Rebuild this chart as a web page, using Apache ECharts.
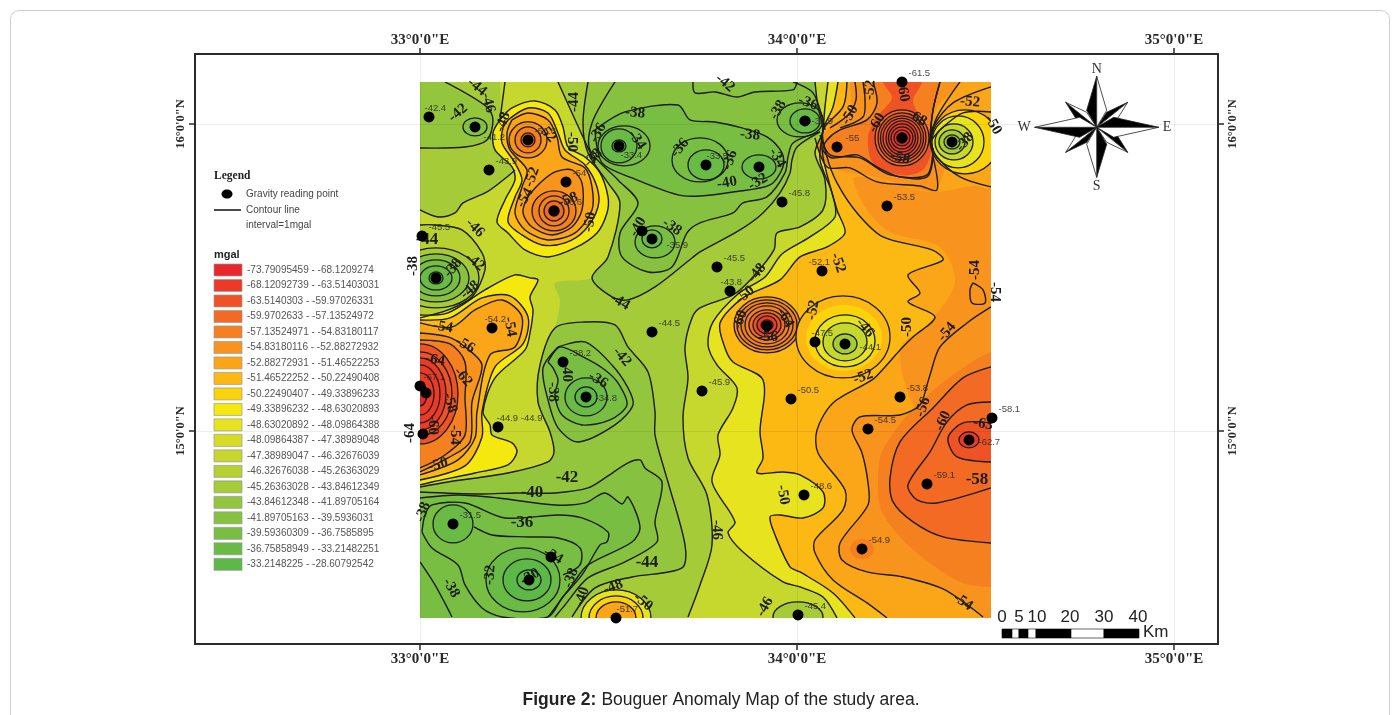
<!DOCTYPE html>
<html><head><meta charset="utf-8">
<style>
html,body{margin:0;padding:0;background:#fff;overflow:hidden}
#card{position:absolute;left:10px;top:10px;width:1380px;height:760px;border:1px solid #cfcfcf;border-radius:9px;box-sizing:border-box}
#c{position:absolute;left:0;top:0;width:1398px;height:715px}
</style>
<script src="https://cdn.jsdelivr.net/npm/echarts@6/dist/echarts.min.js"></script>
</head><body><div id="card"></div><div id="c"></div>
<script>
// ---- legend classes ----
const classLabels=["-73.79095459 - -68.1209274","-68.12092739 - -63.51403031","-63.5140303 - -59.97026331","-59.9702633 - -57.13524972","-57.13524971 - -54.83180117","-54.83180116 - -52.88272932","-52.88272931 - -51.46522253","-51.46522252 - -50.22490408","-50.22490407 - -49.33896233","-49.33896232 - -48.63020893","-48.63020892 - -48.09864388","-48.09864387 - -47.38989048","-47.38989047 - -46.32676039","-46.32676038 - -45.26363029","-45.26363028 - -43.84612349","-43.84612348 - -41.89705164","-41.89705163 - -39.5936031","-39.59360309 - -36.7585895","-36.75858949 - -33.21482251","-33.2148225 - -28.60792542"];
const classUpper=[-68.12,-63.51,-59.97,-57.14,-54.83,-52.88,-51.47,-50.22,-49.34,-48.63,-48.10,-47.39,-46.33,-45.26,-43.85,-41.90,-39.59,-36.76,-33.21,-28.6];
const classColors=["#e8262b","#ec3a27","#ef5225","#f26a23","#f58020","#f8941d","#fba519","#fcb913","#fad30a","#f5e80f","#e8e31f","#d6dc26","#c6d72d","#b7d133","#a5cb39","#94c63d","#86c240","#78be43","#6abb45","#5cb947"];
function colorFor(level){for(let i=0;i<classUpper.length;i++){if(level<=classUpper[i])return classColors[i];}return classColors[19];}

// ---- graticule ----
const lonTicks=[33,34,35], latTicks=[15,16];
const lonText={33:'33°0\'0"E',34:'34°0\'0"E',35:'35°0\'0"E'};
const latText={15:'15°0\'0"N',16:'16°0\'0"N'};
// digitising sheet units: east and south of the NW corner of the study area
const ORIGIN_LON=33, ORIGIN_LAT=16.137, LON_PER_UNIT=1/377, LAT_PER_UNIT=1/307;
const geo=p=>[ORIGIN_LON+p[0]*LON_PER_UNIT, ORIGIN_LAT-p[1]*LAT_PER_UNIT];
const AREA_E=571, AREA_S=536;

// ---- gravity reading points: east, south, reading ----
const gravityPoints=[[9,35,"-42.4"],[55,45,"-41.2"],[69,88,"-43.9"],[108,58,"-56.6"],[146,100,"-54"],[134,129,"-56.6"],[2,154,"-45.5"],[16,196,""],[72,246,"-54.2"],[199,64,"-33.4"],[286,83,"-33.5"],[339,85,""],[222,149,""],[232,157,"-35.9"],[232,250,"-44.5"],[385,39,"-32.9"],[417,65,"-55"],[482,0,"-61.5"],[482,56,""],[532,60,""],[362,120,"-45.8"],[467,124,"-53.5"],[297,185,"-45.5"],[310,209,"-43.8"],[402,189,"-52.1"],[347,244,""],[395,260,"-47.5"],[425,262,"-44.1"],[143,280,"-38.2"],[166,315,"-34.8"],[282,309,"-45.9"],[0,304,"-67.1"],[6,311,""],[3,352,""],[78,345,"-44.9 -44.9"],[33,442,"-31.5"],[131,475,""],[109,498,""],[196,536,"-51.7"],[371,317,"-50.5"],[480,315,"-53.8"],[448,347,"-54.5"],[572,336,"-58.1"],[549,358,"-62.7"],[507,402,"-59.1"],[384,413,"-48.6"],[442,467,"-54.9"],[378,533,"-45.4"]];
const labelNudge={"-42.4":[-11,-9],"-43.8":[-16,-9],"-54.2":[-14,-9],"-47.5":[-10,-9],"-52.1":[-20,-9],"-51.7":[-6,-9],"-32.9":[0,0],"-44.1":[8,3],"-62.7":[3,2],"-34.8":[3,1],"-33.4":[-5,9],"-41.2":[2,10],"-35.9":[8,6],"-67.1":[-3,-9],"-44.9 -44.9":[-8,-9],"-33.5":[-6,-9],"-55":[2,-9]};

// ---- traced contours (flat east,south pairs) ----
const nw44=[25,0,67,25,73,38,67,58,45,65,0,66];
const westMid=[0,128,18,135,35,131,43,121,67,110,87,95,95,88];
const north46a=[85,0,80,38];
const north46b=[138,0,152,31,163,55,175,81];
const pea48=[80,38,92,26,115,19,135,28,143,45,148,65,165,75,180,91,188,115,187,131,177,151,155,166,128,175,105,168,88,151,77,140,85,118,95,98,92,85,75,68,73,51];
const pea50=[88,38,108,26,128,31,138,51,145,68,165,83,177,105,178,125,165,148,145,161,122,163,102,153,88,140,95,115,102,98,95,81,82,61,83,46];
const pea52=[92,38,108,31,128,38,137,55,142,75,165,86,172,105,172,128,155,151,128,158,105,148,95,131,102,105,107,88,90,68,87,51];
const low54=[120,101,135,90,152,88,162,101,162,128,152,145,132,153,112,145,103,131,108,115];
const wb46=[0,143,15,143,42,148,62,171,65,188,52,215,28,228,0,236];
const w48=[0,233,28,231,65,208,95,193,110,196,118,198,110,215,113,228,110,251,105,268,75,296,63,330,70,343,72,353,92,361,97,370,88,383,55,391,12,400,0,403];
const w50=[0,238,30,236,62,216,90,214,108,235,103,262,75,285,62,330,62,355,45,384,0,398];
const w52=[0,241,32,245,55,228,82,218,102,235,95,265,70,273,57,330,55,356,38,378,0,393];
const w54=[0,251,28,255,45,265,62,283,52,320,50,360,28,376,0,390];
const w56=[0,258,30,262,45,280,45,316,45,353,25,373,0,386];
const l42=[195,0,172,41,170,68,198,98,218,121,200,151,202,175,228,190,252,185,267,151,280,141,313,131,323,121,347,115,365,91,368,75,373,61,400,50];
const l44=[168,0,163,41,168,71,188,101,200,121,188,175,172,196,192,215,208,218,235,205,272,176,280,170,320,148,343,131,360,111,370,91,372,78,377,65,400,50];
const c38=[175,48,205,30,258,23,270,38,295,40,322,46,347,55,362,71,363,85,350,103,313,110,280,114,258,113,212,96,182,81];
const top42=[273,0,275,11,295,10,317,15,335,10,373,8,377,0];
const s44=[0,405,28,400,88,391,128,380,134,370,130,350,118,320,120,283,135,246,165,240,195,243,208,265,228,290,235,330,235,353,245,390,248,400,265,463,262,486,212,495,175,506,152,535];
const s42=[0,410,60,412,95,411,135,411,168,406,185,396,208,381,220,378,225,386,242,400,235,440,237,460,205,480,168,496,145,523,135,535];
const s40=[0,416,38,413,78,416,135,423,165,421,185,411,202,422,208,415,220,445,212,460,168,483,152,503,132,530,128,535];
const s38=[2,450,5,433,12,423,45,421,85,436,138,433,162,436,188,450,187,460,180,463,162,493,142,516,128,535,82,535,62,526,45,503,38,483,12,466];
const s36=[54,445,72,453,108,455,138,456,160,466,160,483,143,493];
const sw38=[0,480,15,503,32,535];
const b40=[138,265,165,260,192,283,208,306,213,323,195,343,158,360,138,346,128,318,123,286];
const b38=[128,280,140,265,165,276,185,288,198,301,207,323,190,338,162,343,142,333,135,313,138,298,133,286];
const e46=[395,0,398,25,403,48,395,71,405,98,403,128,380,145,357,151,354,168,333,195,313,213,280,226,272,236,265,265,268,296,263,335,268,376,287,413,292,463,280,503,268,535];
const e48=[408,0,405,25,403,48,400,78,412,111,415,135,390,155,362,172,345,195,318,212,293,240,288,263,297,283,317,306,313,326,298,353,300,373,292,400,315,440,308,451,323,470,363,500,380,505,403,515,417,536];
const e50=[418,0,413,25,403,48,403,75,417,128,425,151,407,165,380,175,360,198,323,216,300,241,305,266,313,280,343,298,340,350,343,376,337,391,363,390,380,393,403,410,403,426,383,436,360,433,350,435,355,453,370,485,380,490,413,511,435,536];
const e52=[427,0,423,25,403,48,407,75,417,101,437,131,463,155,512,168,523,178,488,193,500,211,488,220,515,235,493,255,480,268,465,285,452,298,413,321,397,348,398,371,425,408,423,428,395,458,395,471,413,498,447,521,467,536];
const e54=[571,225,547,241,520,265,510,293,507,303,500,323,480,333,440,335,432,348,442,371,448,401,448,423,420,461,422,478,447,490,483,495,523,507,563,535];
const e56=[571,285,543,296,513,326,480,360,470,396,473,420,493,440,523,455,571,461];
const e58=[571,320,547,323,527,340,510,370,488,403,497,418,517,421,571,406];
const e60=[571,341,543,341,528,356,537,375,571,380];
const islet=[553,201,563,208,565,221,552,221,550,208];
const n56=[453,0,457,21,447,38,420,48,407,58,403,68,412,76,437,73,457,85,480,95,507,95,513,75,510,60,513,28,520,0];
const n60=[463,0,472,16,457,35,448,55,453,81,480,93,503,88,512,65,507,45,493,20,502,0];
const fan=[[373,0,393,11,403,38,405,48],[443,0,445,18,443,35,420,46],[435,0,436,18,428,33,410,46],[520,0,513,28,510,60],[540,0,517,35,510,60],[571,5,533,21,513,45,510,60],[571,30,543,31,520,48,510,60],[571,105,540,95,517,75,510,60],[400,53,410,73,440,76,470,93,507,93,513,66],[395,56,407,85,430,86,457,100,500,104,517,108,513,75]];
// fill-only shading between contours
const f53=[435,95,445,125,470,150,520,165,535,200,510,240,480,268,497,326,520,265,547,241,571,225,571,108,510,110];
const f55=[571,270,530,295,490,330,462,370,458,400,462,430,490,465,540,500,571,505];
const n54=[430,0,430,30,405,50,397,65,410,85,455,95,510,110,517,108,525,80,515,30,540,0];
const ne50=[510,60,517,75,540,95,571,105,571,30,543,31,520,48];

// ---- bullseye rings: east, south, semi-axes, colour level, contour drawn ----
const rings=[
[108,58,19,18,-54,1],[108,58,13,13,-56,1],[108,58,7,7,-58,1],
[134,129,22,20,-55,1],[134,129,15,15,-56,1],[134,129,10,10,-58,1],[134,129,5,5,-59,1],
[55,45,12,9,-41,1],[204,64,26,20,-37,1],[199,64,18,17,-35,1],[199,64,7,6,-31,1],
[280,78,28,22,-37,1],[286,83,18,15,-35,1],[339,85,17,12,-35,1],
[380,38,23,17,-37,1],[385,39,15,12,-35,1],[385,39,5,4,-32,1],
[235,160,20,16,-37,1],[232,157,10,9,-35,1],
[16,196,43,30,-44.5,1],[16,196,33,24,-41,1],[16,196,24,18,-38,1],[16,196,16,12,-35,1],[16,196,7,6,-31,1],
[0,312,38,50,-60,1],[0,312,32,42,-62,1],[0,312,26,36,-64,1],[0,312,20,29,-65,1],[0,312,14,21,-67,1],[0,312,7,12,-71,1],
[166,315,21,19,-35,1],[166,315,11,10,-33,1],[166,315,4,4,-31,1],
[33,442,20,19,-34,1],[103,498,37,32,-35,1],[107,498,24,21,-33,1],[109,498,12,10,-31,1],
[482,56,27,28,-58,1],[482,56,24,25,-60,1],[482,56,21.5,22,-61,1],[482,56,19,19.5,-62,1],[482,56,16,17,-64,1],[482,56,13.5,14,-65,1],[482,56,11,11,-67,1],[482,56,8,8,-69,1],[482,56,5,5,-71,1],[482,56,2.5,2.5,-73,1],
[347,243,33,28,-54,1],[347,243,30,25,-55,1],[347,243,26,22,-56,1],[347,243,22,19,-57,1],[347,243,18,15,-59,1],[347,243,14,12,-61,1],[347,243,10,9,-64,1],[347,243,6,5,-66,1],[347,243,3,3,-70,1],
[423,255,47,41,-50.8,1],[424,256,38,33,-49.8,0],[425,259,30,26,-48.4,1],[425,260,22,19,-47,1],[425,262,12,10,-44.5,1],[425,262,5,4,-42,0],
[545,60,34,32,-49.8,1],[538,60,26,26,-48.3,1],[534,60,19,18,-46.5,1],[532,60,13,12,-45,1],[532,60,8,7,-42,1],[532,60,4,3,-38,0],
[549,358,10,8,-64,1],[549,358,4,3,-68,1],[442,467,12,10,-55,0],
[378,535,25,15,-45,1],[196,536,35,28,-48.3,1],[196,536,27,22,-50,1],[196,536,20,16,-52,1]
];

// ---- contour labels: east, south, text, clockwise degrees ----
const contourLabels=[
[57,5,"-44",40],[68,21,"-46",75],[38,31,"-42",-40],[83,40,"-48",-70],[127,51,"-52",50],[152,60,"-50",90],[154,20,"-44",-90],[215,31,"-38",5],[178,51,"-36",-60],[217,58,"-34",55],[260,66,"-36",-50],[173,76,"-38",-45],[112,95,"-52",-70],[105,116,"-54",-60],[148,118,"-58",-20],[170,140,"-50",-80],[218,145,"-40",-60],[252,145,"-38",35],[55,146,"-46",45],[7,158,"-44",0],[55,180,"-42",40],[33,186,"-38",-50],[50,208,"-48",-40],[-7,184,"-38",-90],[200,220,"-44",30],[23,245,"-54",10],[90,245,"-54",80],[45,263,"-56",30],
[305,1,"-42",40],[358,28,"-38",-60],[388,21,"-36",20],[330,53,"-38",5],[310,78,"-36",-70],[357,76,"-34",60],[307,101,"-40",-10],[338,100,"-32",-30],[430,33,"-50",-60],[450,8,"-52",-85],[483,10,"-60",80],[457,41,"-60",-60],[497,36,"-68",30],[480,76,"-58",15],[545,60,"-38",-50],[550,20,"-52",5],[573,43,"-50",60],[418,181,"-52",70],[555,188,"-54",-90],[575,210,"-54",90],[337,191,"-48",-50],[325,213,"-50",-40],[320,238,"-60",-70],[365,236,"-64",60],[348,255,"-56",0],[393,228,"-52",-80],[445,246,"-46",50],[487,245,"-50",-90],[527,250,"-54",-50],
[15,278,"-64",10],[43,295,"-62",50],[30,321,"-58",75],[13,343,"-60",90],[35,353,"-54",90],[18,383,"-50",-15],[-10,351,"-64",-90],[202,275,"-42",50],[147,290,"-40",90],[178,298,"-36",30],[133,310,"-38",90],[147,396,"-42",0],[112,411,"-40",0],[102,441,"-36",0],[227,481,"-44",0],[3,430,"-38",-70],[133,474,"-34",30],[70,493,"-32",-85],[110,495,"-30",-30],[151,496,"-38",-70],[31,506,"-38",60],[162,515,"-40",-70],[193,505,"-48",-20],[223,520,"-50",40],
[297,448,"-46",90],[363,413,"-50",80],[443,295,"-52",-20],[503,325,"-56",-70],[523,339,"-60",-65],[563,342,"-63",10],[557,398,"-58",0],[345,525,"-46",-60],[543,520,"-54",35]
];
const bigLabels=["-42","-40","-36","-58","-44"];

const polyLines=[nw44,westMid,north46a,north46b,pea48.concat(pea48.slice(0,2)),pea50.concat(pea50.slice(0,2)),pea52.concat(pea52.slice(0,2)),low54.concat(low54.slice(0,2)),wb46,w48,w50,w52,w54,w56,l42,l44,c38.concat(c38.slice(0,2)),top42,s44,s42,s40,s38.concat(s38.slice(0,2)),s36,sw38,b40.concat(b40.slice(0,2)),b38.concat(b38.slice(0,2)),e46,e48,e50,e52,e54,e56,e58,e60,islet.concat(islet.slice(0,2)),n56,...fan];

const OUT=25, W=AREA_E+OUT, S=AREA_S+OUT;
const F46W=[85,-OUT,80,38,73,51,75,68,92,85,87,95,67,110,43,121,35,131,18,135,0,128,-OUT,128,-OUT,405,0,405,28,400,88,391,128,380,134,370,130,350,118,320,120,283,135,246,140,218,135,201,172,196,188,175,200,121,188,101,175,81,163,55,152,31,138,0,138,-OUT];
const fillLayers=[
[F46W,[],-46.8],
[nw44,[-OUT,66,-OUT,-OUT,25,-OUT],-43],
[wb46,[-OUT,236,-OUT,143],-45.8],
[l44,[400,-OUT,168,-OUT],-43],
[l42,[390,-OUT,195,-OUT],-41],
[c38,[],-38.5],
[s44,[152,S,-OUT,S,-OUT,405],-43],
[s42,[135,S,-OUT,S,-OUT,410],-41],
[s40,[128,S,-OUT,S,-OUT,416],-39],
[s38,[],-37.5],
[b40,[],-40.5],[b38,[],-38.5],
[e46,[268,S,W,S,W,-OUT,395,-OUT],-47],
[e48,[417,S,W,S,W,-OUT,408,-OUT],-48.5],
[e50,[437,S,W,S,W,-OUT,418,-OUT],-51],
[e52,[467,S,W,S,W,-OUT,427,-OUT],-52],
[f53,[],-53],
[e54,[563,S,W,S,W,225],-54],
[f55,[W,505,W,270],-56],
[e56,[W,461,W,285],-58],
[e58,[W,406,W,320],-59],
[e60,[W,380,W,341],-62],
[n54,[540,-OUT,430,-OUT],-54],
[n56,[520,-OUT,453,-OUT],-56],
[n60,[502,-OUT,463,-OUT],-61],
[ne50,[],-51.5],
[w48,[-OUT,403,-OUT,233],-49],
[w50,[-OUT,398,-OUT,238],-51],
[w52,[-OUT,393,-OUT,241],-52],
[w54,[-OUT,390,-OUT,251],-54],
[w56,[-OUT,386,-OUT,258],-56],
[pea48,[],-49],[pea50,[],-51],[pea52,[],-52.5],[low54,[],-54]
];
const pairs=a=>{const r=[];for(let i=0;i<a.length;i+=2)r.push([a[i],a[i+1]]);return r;};

// ---- axis extent (degrees) ----
const lonMin=32.4032, lonMax=35.1167, latMin=14.3062, latMax=16.228;
const SMOOTH=0.3;

const chart=echarts.init(document.getElementById('c'),null,{renderer:'canvas'});

const axisBase={type:'value',z:10,splitLine:{show:false},axisLine:{show:true,onZero:false,lineStyle:{color:'#2b2b2b',width:2}},axisTick:{show:true,length:6,inside:false,lineStyle:{color:'#2b2b2b',width:1.5}}};
const tickFont={fontFamily:'Liberation Serif',fontWeight:'bold',fontSize:15,color:'#2a2a2a'};
const xA=pos=>Object.assign({},axisBase,{position:pos,min:lonMin,max:lonMax,axisTick:Object.assign({},axisBase.axisTick,{customValues:lonTicks}),axisLabel:Object.assign({},tickFont,{customValues:lonTicks,margin:pos==='top'?6:8,formatter:v=>lonText[v]||''}),splitLine:{show:pos==='bottom',lineStyle:{color:'rgba(0,0,0,0.07)',width:1}}});
const yA=(pos,rot)=>Object.assign({},axisBase,{position:pos,min:latMin,max:latMax,axisTick:Object.assign({},axisBase.axisTick,{customValues:latTicks}),axisLabel:Object.assign({},tickFont,{fontSize:12.5,customValues:latTicks,margin:8,rotate:rot,formatter:v=>latText[v]||''}),splitLine:{show:pos==='left',lineStyle:{color:'rgba(0,0,0,0.07)',width:1}}});

const AREA_LON_E=33+AREA_E*LON_PER_UNIT, AREA_LAT_S=ORIGIN_LAT-AREA_S*LAT_PER_UNIT;
const maskTop=latMax+0.128, maskBottom=latMin-0.231;
const maskRects=[[lonMin,33,maskBottom,maskTop],[AREA_LON_E,lonMax,maskBottom,maskTop],[lonMin,lonMax,ORIGIN_LAT,maskTop],[lonMin,lonMax,maskBottom,AREA_LAT_S]];

const series=[
 {type:'custom',name:'base',z:2,silent:true,clip:false,animation:false,data:[[33,16]],encode:{x:0,y:1},
  renderItem:(p,api)=>{const a=api.coord(geo([0,0])),b=api.coord(geo([AREA_E,AREA_S]));return {type:'rect',shape:{x:a[0],y:a[1],width:b[0]-a[0],height:b[1]-a[1]},style:{fill:colorFor(-45)}};}},
 {type:'custom',name:'bands',z:2,silent:true,clip:false,animation:false,data:fillLayers.map(f=>geo(f[0].slice(0,2))),encode:{x:0,y:1},
  renderItem:(p,api)=>{const f=fillLayers[p.dataIndex];return {type:'polygon',shape:{points:pairs(f[0].concat(f[1])).map(q=>api.coord(geo(q))),smooth:SMOOTH},style:{fill:colorFor(f[2])}};}},
 {type:'custom',name:'rings',z:3,silent:true,clip:false,animation:false,data:rings.map(r=>geo(r)),encode:{x:0,y:1},
  renderItem:(p,api)=>{const r=rings[p.dataIndex],c=api.coord(geo(r)),e=api.coord(geo([r[0]+r[2],r[1]+r[3]]));return {type:'ellipse',shape:{cx:c[0],cy:c[1],rx:e[0]-c[0],ry:e[1]-c[1]},style:{fill:colorFor(r[4]),stroke:r[5]?'#1c1c1c':null,lineWidth:1.3}};}},
 {type:'custom',name:'Contour line',z:4,silent:true,clip:false,animation:false,data:polyLines.map(l=>geo(l)),encode:{x:0,y:1},
  renderItem:(p,api)=>({type:'polyline',shape:{points:pairs(polyLines[p.dataIndex]).map(q=>api.coord(geo(q))),smooth:SMOOTH},style:{stroke:'#1c1c1c',lineWidth:1.4,fill:null}})},
 {type:'custom',name:'outside',z:5,silent:true,clip:false,animation:false,data:maskRects.map(m=>[m[0],m[2]]),encode:{x:0,y:1},
  renderItem:(p,api)=>{const m=maskRects[p.dataIndex],a=api.coord([m[0],m[3]]),b=api.coord([m[1],m[2]]);return {type:'rect',shape:{x:a[0],y:a[1],width:b[0]-a[0],height:b[1]-a[1]},style:{fill:'#fff'}};}},
 {type:'custom',name:'contour labels',z:6,silent:true,clip:false,animation:false,data:contourLabels.map(l=>geo(l)),encode:{x:0,y:1},
  renderItem:(p,api)=>{const l=contourLabels[p.dataIndex],c=api.coord(geo(l));return {type:'text',x:c[0],y:c[1],rotation:-l[3]*Math.PI/180,style:{text:l[2],x:0,y:0,align:'center',verticalAlign:'middle',fill:'#1c1c1c',font:(bigLabels.includes(l[2])&&l[3]===0?'bold 17px':'bold 15px')+' "Liberation Serif"'}};}},
 {type:'scatter',name:'Gravity reading point',z:7,clip:false,silent:true,animation:false,symbol:'circle',symbolSize:11,itemStyle:{color:'#000',opacity:1},
  data:gravityPoints.map(g=>({value:geo(g),label:{show:!!g[2],formatter:g[2],position:'right',distance:1,offset:labelNudge[g[2]]||[0,-9],fontFamily:'Liberation Sans',fontSize:9.5,color:'rgba(40,40,40,0.85)'}}))}
];

// ---- decoration: legend, compass, scale bar ----
const Z=20;
const graphics=[];
const txt=(x,y,s,font,fill,align)=>graphics.push({type:'text',z:Z,x:x,y:y,style:{text:s,font:font,fill:fill||'#444',align:align||'left',verticalAlign:'middle'}});
txt(214,176,'Legend','bold 11.5px "Liberation Serif"','#222');
graphics.push({type:'ellipse',z:Z,shape:{cx:227,cy:194,rx:5.5,ry:4.5},style:{fill:'#000'}});
txt(246,194,'Gravity reading point','10px "Liberation Sans"');
graphics.push({type:'line',z:Z,shape:{x1:214,y1:210,x2:241,y2:210},style:{stroke:'#111',lineWidth:1.5}});
txt(246,210,'Contour line','10px "Liberation Sans"');
txt(246,225,'interval=1mgal','10px "Liberation Sans"');
txt(214,255,'mgal','bold 11px "Liberation Sans"','#222');
classLabels.forEach((s,i)=>{const y=270+i*15.49;
 graphics.push({type:'rect',z:Z,shape:{x:214,y:y-6,width:28,height:12},style:{fill:classColors[i],stroke:'#9a9a9a',lineWidth:0.7}});
 txt(247,y,s,'10px "Liberation Sans"','#555');});

// compass
const cx=1096.7, cy=127.3;
const tri=(pts,fill)=>graphics.push({type:'polygon',z:Z,shape:{points:pts.map(p=>[cx+p[0],cy+p[1]])},style:{fill:fill,stroke:'#222',lineWidth:0.8}});
[[31,-25,10,-15,21,-9],[31,25,21,9,10,15],[-31,25,-10,15,-21,9],[-31,-25,-21,-9,-10,-15]].forEach(d=>{
 tri([[d[0],d[1]],[d[2],d[3]],[0,0]],'#000');tri([[d[0],d[1]],[d[4],d[5]],[0,0]],'#fff');});
[[0,-51,-10,-17,10,-17],[62,0,17,-10,17,10],[0,50,10,17,-10,17],[-62,0,-17,10,-17,-10]].forEach(d=>{
 tri([[d[0],d[1]],[d[2],d[3]],[0,0]],'#000');tri([[d[0],d[1]],[d[4],d[5]],[0,0]],'#fff');});
txt(1096.7,69,'N','14px "Liberation Serif"','#333','center');
txt(1096.7,186,'S','14px "Liberation Serif"','#333','center');
txt(1167,127.5,'E','14px "Liberation Serif"','#333','center');
txt(1024,127.5,'W','14px "Liberation Serif"','#333','center');

// scale bar
const scaleTicks=[["0",1002],["5",1019],["10",1037],["20",1070],["30",1104],["40",1138]];
const scaleSegments=[[1002,1012,1],[1012,1019,0],[1019,1028,1],[1028,1036,0],[1036,1071,1],[1071,1104,0],[1104,1139,1]];
scaleSegments.forEach(s=>graphics.push({type:'rect',z:Z,shape:{x:s[0],y:629,width:s[1]-s[0],height:9},style:{fill:s[2]?'#000':'#fff',stroke:'#000',lineWidth:0.6}}));
scaleTicks.forEach(t=>txt(t[1],617,t[0],'17px "Liberation Sans"','#222','center'));
txt(1143,632,'Km','17px "Liberation Sans"','#222');

chart.setOption({
 animation:false,backgroundColor:'transparent',
 title:{left:716,top:686,textAlign:'center',text:'{b|Figure 2:} {n|Bouguer Anomaly Map of the study area.}',textStyle:{fontWeight:'normal',rich:{b:{fontFamily:'Liberation Sans',fontWeight:'bold',fontSize:17.5,color:'#222'},n:{fontFamily:'Liberation Sans',fontWeight:'normal',fontSize:17.5,color:'#222'}}}},
 grid:{left:195,right:180,top:54,bottom:71,containLabel:false},
 xAxis:[xA('bottom'),xA('top')],
 yAxis:[yA('left',90),yA('right',90)],
 series:series,
 graphic:{elements:graphics}
});
</script></body></html>
